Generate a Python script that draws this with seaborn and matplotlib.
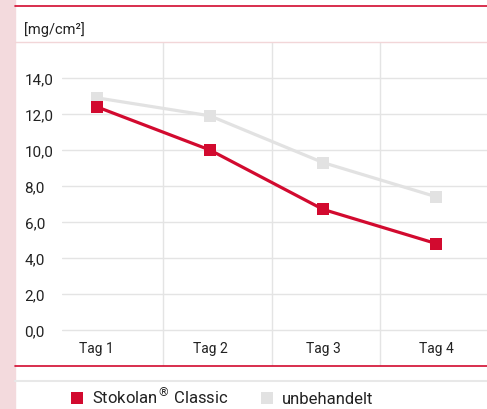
import matplotlib
matplotlib.use("Agg")
import matplotlib.pyplot as plt
from matplotlib.lines import Line2D
from matplotlib.patches import Rectangle
import seaborn as sns
import pandas as pd

tage = ["Tag 1", "Tag 2", "Tag 3", "Tag 4"]
stokolan = [12.4, 10.0, 6.7, 4.8]
unbehandelt = [12.9, 11.9, 9.3, 7.4]
yticks = [0, 2, 4, 6, 8, 10, 12, 14]
ytick_labels = ["0,0", "2,0", "4,0", "6,0", "8,0", "10,0", "12,0", "14,0"]
series_names = ["Stokolan$^{®}$ Classic", "unbehandelt"]

RED = "#d20a2f"
GRAY = "#e2e2e2"
GRID = "#e4e4e4"
PINK = "#f3dadd"

sns.set_style("white")
plt.rcParams["font.family"] = ["Roboto", "DejaVu Sans"]

df = pd.DataFrame({
    "Tag": tage * 2,
    "Wert": unbehandelt + stokolan,
    "Serie": ["unbehandelt"] * 4 + ["Stokolan"] * 4,
})

W, H = 487, 410
fig = plt.figure(figsize=(W / 100, H / 100), dpi=100)
ax = fig.add_axes([62 / W, (H - 367) / H, (W - 62) / W, (367 - 43) / H])

sns.lineplot(data=df, x="Tag", y="Wert", hue="Serie", sort=False,
             palette={"unbehandelt": GRAY, "Stokolan": RED},
             hue_order=["unbehandelt", "Stokolan"],
             marker="s", markersize=8.5, markeredgewidth=0, linewidth=2.3,
             legend=False, ax=ax, zorder=3)

ax.set_xlim(-0.3065, 3.448)
ax.set_ylim(-2, 16)
ax.set_yticks(yticks)
ax.set_yticklabels(ytick_labels, fontsize=11, color="#222222")
for lbl in ax.get_yticklabels():
    lbl.set_horizontalalignment("left")
ax.tick_params(axis="y", length=0, pad=27)
ax.set_xticks([])
ax.set_xlabel("")
ax.set_ylabel("")
for s in ax.spines.values():
    s.set_visible(False)
ax.grid(axis="y", color=GRID, linewidth=1.0)
ax.set_axisbelow(True)
for xv in [0.59, 1.55, 2.5]:
    ax.axvline(xv, color=GRID, linewidth=1.0, zorder=0)
for i, t in enumerate(tage):
    ax.text(i, -1.0, t, ha="center", va="center", fontsize=10, color="#222222")

# decorative frame
fig.patches.append(Rectangle((0, 0), 15 / W, 1, transform=fig.transFigure, color=PINK, zorder=0))
fig.add_artist(Line2D([15 / W, 1], [1 - 7 / H, 1 - 7 / H], color=RED, linewidth=1.2))
fig.add_artist(Line2D([15 / W, 1], [1 - 43 / H, 1 - 43 / H], color="#f2d6d8", linewidth=1.0))
fig.add_artist(Line2D([15 / W, 1], [1 - 367 / H, 1 - 367 / H], color=RED, linewidth=1.2))
fig.add_artist(Line2D([15 / W, 1], [1 - 382 / H, 1 - 382 / H], color="#e8e8e8", linewidth=1.5))

fig.text(24 / W, 1 - 30 / H, "[mg/cm²]", fontsize=10.5, color="#222222", va="center", ha="left")

handles = [Line2D([], [], marker="s", linestyle="none", color=RED, markersize=9, markeredgewidth=0),
           Line2D([], [], marker="s", linestyle="none", color=GRAY, markersize=9, markeredgewidth=0)]
fig.legend(handles, series_names, loc="center left", bbox_to_anchor=(70 / W, 1 - 397 / H),
           frameon=False, ncol=2, fontsize=12, handlelength=0.8, handletextpad=0.5,
           columnspacing=1.9, borderaxespad=0, borderpad=0, labelcolor="#222222")

fig.savefig("out.png", dpi=100)
